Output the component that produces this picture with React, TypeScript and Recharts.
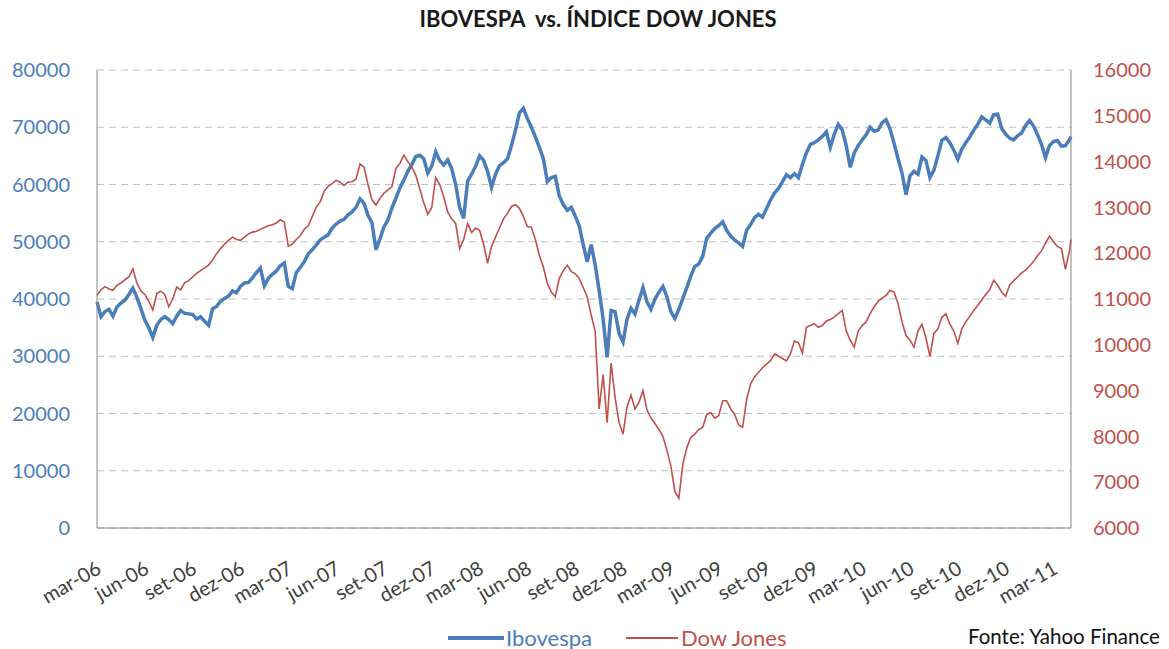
import { LineChart, Line, XAxis, YAxis, CartesianGrid } from "recharts";

// months since 1 Mar 2006, sampled roughly weekly
const monthPos = [
  0, 0.25, 0.5, 0.75, 1, 1.25, 1.5, 1.75,
  2, 2.25, 2.5, 2.75, 3, 3.25, 3.5, 3.75,
  4, 4.25, 4.5, 4.75, 5, 5.25, 5.5, 5.75,
  6, 6.25, 6.5, 6.75, 7, 7.25, 7.5, 7.75,
  8, 8.25, 8.5, 8.75, 9, 9.25, 9.5, 9.75,
  10, 10.25, 10.5, 10.75, 11, 11.25, 11.5, 11.75,
  12, 12.25, 12.5, 12.75, 13, 13.25, 13.5, 13.75,
  14, 14.25, 14.5, 14.75, 15, 15.25, 15.5, 15.75,
  16, 16.25, 16.5, 16.75, 17, 17.25, 17.5, 17.75,
  18, 18.25, 18.5, 18.75, 19, 19.25, 19.5, 19.75,
  20, 20.25, 20.5, 20.75, 21, 21.25, 21.5, 21.75,
  22, 22.25, 22.5, 22.75, 23, 23.25, 23.5, 23.75,
  24, 24.25, 24.5, 24.75, 25, 25.25, 25.5, 25.75,
  26, 26.25, 26.5, 26.75, 27, 27.25, 27.5, 27.75,
  28, 28.25, 28.5, 28.75, 29, 29.25, 29.5, 29.75,
  30, 30.25, 30.5, 30.75, 31, 31.25, 31.5, 31.75,
  32, 32.25, 32.5, 32.75, 33, 33.25, 33.5, 33.75,
  34, 34.25, 34.5, 34.75, 35, 35.25, 35.5, 35.75,
  36, 36.25, 36.5, 36.75, 37, 37.25, 37.5, 37.75,
  38, 38.25, 38.5, 38.75, 39, 39.25, 39.5, 39.75,
  40, 40.25, 40.5, 40.75, 41, 41.25, 41.5, 41.75,
  42, 42.25, 42.5, 42.75, 43, 43.25, 43.5, 43.75,
  44, 44.25, 44.5, 44.75, 45, 45.25, 45.5, 45.75,
  46, 46.25, 46.5, 46.75, 47, 47.25, 47.5, 47.75,
  48, 48.25, 48.5, 48.75, 49, 49.25, 49.5, 49.75,
  50, 50.25, 50.5, 50.75, 51, 51.25, 51.5, 51.75,
  52, 52.25, 52.5, 52.75, 53, 53.25, 53.5, 53.75,
  54, 54.25, 54.5, 54.75, 55, 55.25, 55.5, 55.75,
  56, 56.25, 56.5, 56.75, 57, 57.25, 57.5, 57.75,
  58, 58.25, 58.5, 58.75, 59, 59.25, 59.5, 59.75,
  60, 60.25, 60.5, 60.75, 61, 61.1,
];

const ibovespa = [
  39500, 36900, 37800, 38200, 37000, 38600, 39300, 39800,
  40800, 41900, 40300, 38400, 36300, 35000, 33300, 35400,
  36400, 36900, 36400, 35700, 37000, 38000, 37500, 37400,
  37300, 36500, 36900, 36100, 35400, 38300, 38700, 39600,
  40100, 40500, 41400, 41100, 42200, 42800, 42900, 43700,
  44600, 45400, 42300, 43600, 44300, 44900, 45800, 46300,
  42200, 41800, 44600, 45500, 46500, 47900, 48600, 49400,
  50300, 50800, 51200, 52400, 53100, 53600, 53900, 54700,
  55200, 56000, 57500, 56700, 54600, 53300, 48600, 50500,
  52600, 53800, 55900, 57600, 59400, 60800, 62300, 63500,
  64900, 65100, 64500, 62000, 63200, 65700, 64200, 63400,
  64300, 62800, 60000, 56000, 54100, 60600, 61800, 63200,
  65000, 64200, 62300, 59500, 61800, 63300, 63800, 64500,
  66800, 69500, 72500, 73300, 71500, 70000, 68300, 66500,
  64500, 60500, 61200, 61400, 58000, 56500, 55500, 56000,
  54500, 52800, 49500, 46500, 49500, 46000, 41500, 36500,
  29800, 38000, 37800, 34000, 32500, 36500, 38400, 37400,
  39800, 42000, 39500, 38200, 40000, 41200, 42200, 40400,
  37800, 36600, 38200, 40100, 42000, 44000, 45700, 46100,
  47500, 50600, 51500, 52300, 52800, 53500, 52000, 51000,
  50300, 49800, 49200, 52000, 53000, 54200, 54800, 54300,
  55800, 57300, 58500, 59300, 60500, 61700, 61200, 61900,
  61200, 63500, 65500, 67000, 67300, 67800, 68400, 69200,
  66500, 68800, 70500, 69500, 66800, 63000, 65500, 66800,
  67800, 68700, 70000, 69300, 69500, 70800, 71300, 69700,
  67200, 64500, 62000, 58200, 61500, 62300, 61800, 64800,
  64200, 61200, 62500, 65000, 67700, 68200, 67300, 66000,
  64400, 66200, 67300, 68300, 69500, 70500, 71800, 71300,
  70700, 72200, 72300, 69800, 68800, 68100, 67800, 68500,
  69000, 70300, 71200, 70200, 68700, 67000, 64700, 66800,
  67500, 67700, 66700, 66800, 67800, 68400,
];

const dowJones = [
  11080, 11200, 11270, 11220, 11190, 11300, 11350, 11420,
  11480, 11660, 11350, 11180, 11100, 10950, 10760, 11120,
  11170, 11100, 10830, 11000, 11260, 11200, 11360, 11400,
  11480, 11560, 11620, 11680, 11740, 11850, 11990, 12100,
  12200, 12280, 12350, 12300, 12280, 12350, 12420, 12460,
  12480, 12520, 12560, 12600, 12620, 12660, 12730, 12680,
  12150, 12200, 12300, 12380, 12520, 12600, 12800, 13000,
  13120, 13350, 13460, 13520, 13590, 13550, 13480, 13550,
  13560, 13620, 13950, 13880, 13500, 13160, 13050, 13200,
  13310, 13380, 13450, 13850, 13960, 14140, 14000, 13880,
  13700, 13400, 13100, 12850, 13000, 13650, 13500, 13230,
  12900, 12750, 12650, 12100, 12300, 12650, 12450, 12550,
  12500, 12200, 11780, 12150, 12350, 12550, 12750, 12870,
  13020, 13060, 12980, 12800, 12580, 12560, 12300, 11950,
  11700, 11340, 11150, 11050, 11450, 11620, 11740, 11600,
  11550, 11450, 11250, 11050, 10650, 10300, 8600, 9350,
  8300, 9600, 8850, 8300, 8050, 8650, 8900, 8600,
  8750, 9000, 8580, 8400, 8280, 8150, 8000, 7700,
  7350, 6800, 6650, 7400, 7750, 7980, 8050, 8150,
  8200, 8480, 8520, 8400, 8450, 8780, 8780, 8600,
  8480, 8250, 8200, 8800, 9150, 9300, 9400, 9500,
  9580, 9650, 9800, 9750, 9700, 9650, 9800, 10080,
  10050, 9820, 10380, 10420, 10460, 10380, 10420, 10520,
  10550, 10610, 10680, 10750, 10300, 10100, 9950, 10300,
  10420, 10500, 10680, 10830, 10950, 11020, 11080, 11190,
  11150, 10900, 10500, 10200, 10100, 9950, 10300, 10450,
  10150, 9750, 10250, 10350, 10600, 10680, 10450, 10300,
  10030, 10350, 10500, 10620, 10750, 10860, 10980, 11100,
  11200, 11410, 11300, 11150, 11060, 11300, 11400, 11480,
  11570, 11630, 11720, 11820, 11950, 12050, 12220, 12370,
  12250, 12150, 12100, 11650, 12050, 12300,
];

const quarterTicks = [0, 3, 6, 9, 12, 15, 18, 21, 24, 27, 30, 33, 36, 39, 42, 45, 48, 51, 54, 57, 60];
const quarterLabels = [
  "mar-06", "jun-06", "set-06", "dez-06", "mar-07", "jun-07", "set-07", "dez-07",
  "mar-08", "jun-08", "set-08", "dez-08", "mar-09", "jun-09", "set-09", "dez-09",
  "mar-10", "jun-10", "set-10", "dez-10", "mar-11",
];
const ibovTicks = [0, 10000, 20000, 30000, 40000, 50000, 60000, 70000, 80000];
const dowTicks = [6000, 7000, 8000, 9000, 10000, 11000, 12000, 13000, 14000, 15000, 16000];

const data = monthPos.map((t, i) => ({ t, ibov: ibovespa[i], dow: dowJones[i] }));

const FONT = "Lato, 'Open Sans', sans-serif";
const BLUE = "#4A7EBB";
const RED = "#C0504D";

function QuarterTick(props: any) {
  const { x, y, payload } = props;
  const label = quarterLabels[quarterTicks.indexOf(payload.value)];
  const ax = x + 3;
  const ay = y + 40;
  return (
    <text
      x={ax}
      y={ay}
      transform={`rotate(-30, ${ax}, ${ay})`}
      textAnchor="end"
      dominantBaseline="middle"
      fontSize={20}
      fontFamily={FONT}
      fill="#404040"
    >
      {label}
    </text>
  );
}

export default function App() {
  return (
    <div style={{ position: "absolute", left: 0, top: 0, width: 1169, height: 649, background: "#fff", fontFamily: FONT }}>
      <div
        style={{
          position: "absolute",
          top: 5,
          left: 0,
          width: 1196,
          textAlign: "center",
          fontSize: 22,
          fontWeight: 700,
          color: "#1a1a1a",
          whiteSpace: "pre",
        }}
      >
        {"IBOVESPA  vs. ÍNDICE DOW JONES"}
      </div>

      <LineChart width={1169} height={649} data={data} margin={{ top: 70, right: 0, bottom: 0, left: 0 }}>
        <CartesianGrid yAxisId="left" vertical={false} stroke="#BFBFBF" strokeDasharray="7 5" />
        <XAxis
          dataKey="t"
          type="number"
          domain={[0, 61.1]}
          ticks={quarterTicks}
          interval={0}
          height={121}
          tickSize={0}
          tickMargin={0}
          tickLine={false}
          axisLine={{ stroke: "#868686" }}
          tick={<QuarterTick />}
        />
        <YAxis
          yAxisId="left"
          width={97}
          domain={[0, 80000]}
          ticks={ibovTicks}
          tickSize={0}
          tickMargin={27}
          tickLine={false}
          axisLine={{ stroke: "#868686" }}
          tick={{ fill: BLUE, fontSize: 20, fontFamily: FONT }}
        />
        <YAxis
          yAxisId="right"
          orientation="right"
          width={98}
          domain={[6000, 16000]}
          ticks={dowTicks}
          tickSize={0}
          tickMargin={22}
          tickLine={false}
          axisLine={{ stroke: "#868686" }}
          tick={{ fill: RED, fontSize: 20, fontFamily: FONT }}
        />
        <Line
          yAxisId="left"
          type="linear"
          dataKey="ibov"
          stroke={BLUE}
          strokeWidth={3.5}
          dot={false}
          isAnimationActive={false}
        />
        <Line
          yAxisId="right"
          type="linear"
          dataKey="dow"
          stroke={RED}
          strokeWidth={1.6}
          dot={false}
          isAnimationActive={false}
        />
      </LineChart>

      <div style={{ position: "absolute", top: 624, left: 448, display: "flex", alignItems: "center", fontSize: 22 }}>
        <svg width={56} height={8}>
          <line x1={0} y1={4} x2={56} y2={4} stroke={BLUE} strokeWidth={4} />
        </svg>
        <span style={{ color: BLUE, marginLeft: 2 }}>Ibovespa</span>
        <svg width={52} height={8} style={{ marginLeft: 34 }}>
          <line x1={0} y1={4} x2={52} y2={4} stroke={RED} strokeWidth={2} />
        </svg>
        <span style={{ color: RED, marginLeft: 3 }}>Dow Jones</span>
      </div>
      <div style={{ position: "absolute", top: 624, left: 968, fontSize: 20.5, color: "#111" }}>Fonte: Yahoo Finance</div>
    </div>
  );
}
